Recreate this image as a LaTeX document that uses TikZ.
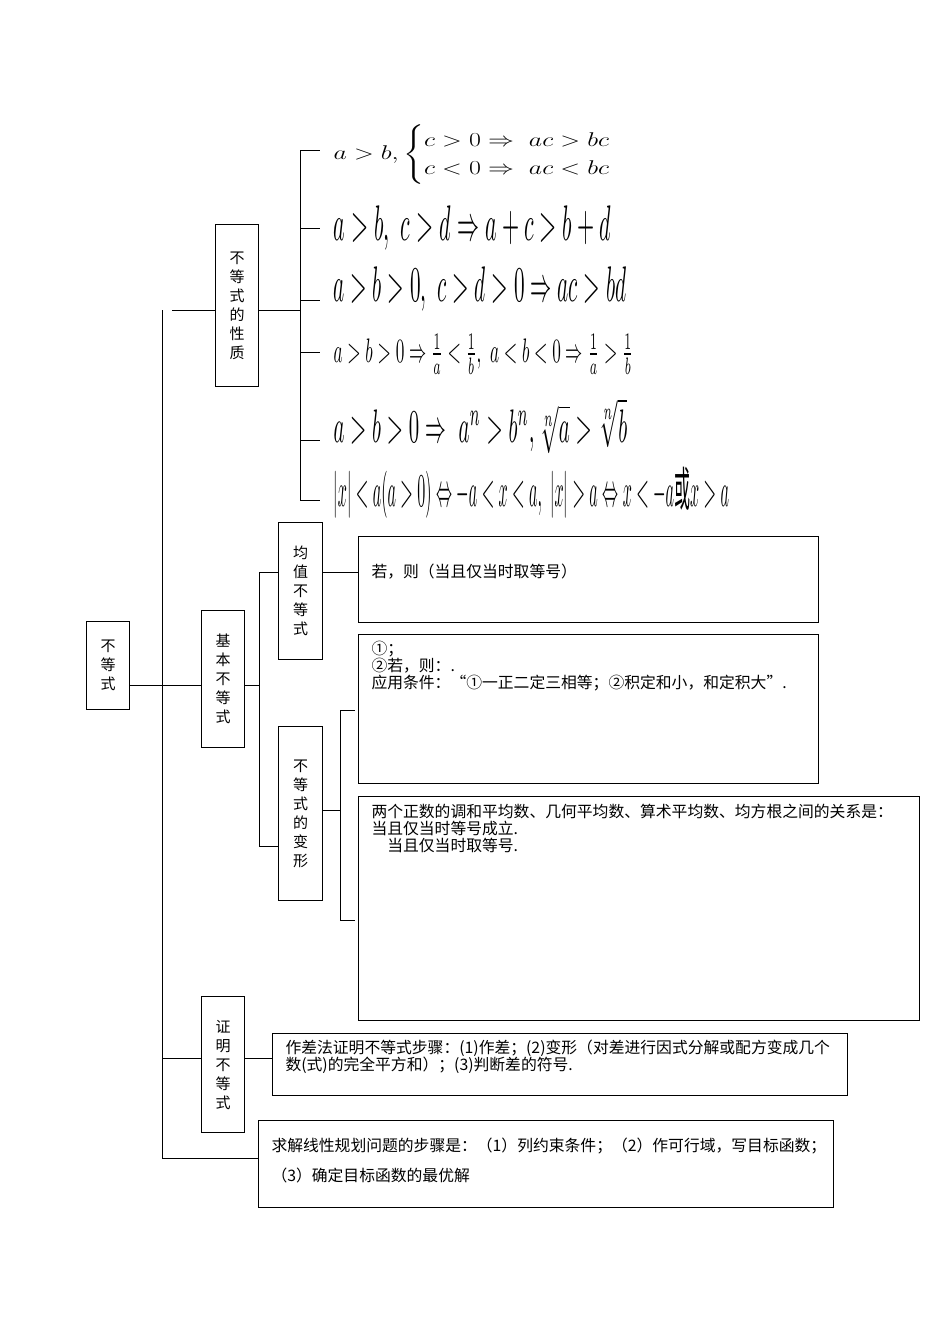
\documentclass[tikz,border=0pt]{standalone}
\usepackage{fontspec}
\usepackage{amsmath,graphicx}
\newfontfamily\cjk{Noto Sans CJK SC}
\begin{document}
\begin{tikzpicture}[x=1pt,y=-1pt,line width=1pt,
  box/.style={draw,rectangle,inner sep=0pt,anchor=north west},
  vt/.style={font=\cjk\fontsize{15}{19}\selectfont,align=center,inner sep=0pt},
  bt/.style={font=\cjk\fontsize{15.8}{17}\selectfont,align=left,inner sep=0pt,anchor=north west},
  fm/.style={anchor=west,inner sep=0pt}]
\useasboundingbox (0,0) rectangle (950,1344);
% boxes
\node[box,minimum width=43,minimum height=88] (root) at (86,621) {};
\node[vt] at (root.center) {不\\等\\式};
\node[box,minimum width=43,minimum height=162] (prop) at (215,224) {};
\node[vt] at (prop.center) {不\\等\\式\\的\\性\\质};
\node[box,minimum width=43,minimum height=137] (basic) at (201,610) {};
\node[vt] at (basic.center) {基\\本\\不\\等\\式};
\node[box,minimum width=44,minimum height=137] (mean) at (278,522) {};
\node[vt] at (mean.center) {均\\值\\不\\等\\式};
\node[box,minimum width=44,minimum height=174] (trans) at (278,726) {};
\node[vt] at (trans.center) {不\\等\\式\\的\\变\\形};
\node[box,minimum width=43,minimum height=136] (proof) at (201,996) {};
\node[vt] at (proof.center) {证\\明\\不\\等\\式};
\node[box,minimum width=460,minimum height=86] (b1) at (358,536) {};
\node[bt] at (371,563) {若，则（当且仅当时取等号）};
\node[box,minimum width=460,minimum height=149] (b2) at (358,634) {};
\node[bt] at (371,641) {①；\\②若，则：.\\应用条件：“①一正二定三相等；②积定和小，和定积大”.};
\node[box,minimum width=561,minimum height=224] (b3) at (358,796) {};
\node[bt] at (371,804) {两个正数的调和平均数、几何平均数、算术平均数、均方根之间的关系是：\\当且仅当时等号成立.\\\quad 当且仅当时取等号.};
\node[box,minimum width=575,minimum height=62] (b4) at (272,1033) {};
\node[bt] at (285,1039) {作差法证明不等式步骤：(1)作差；(2)变形（对差进行因式分解或配方变成几个\\数(式)的完全平方和）；(3)判断差的符号.};
\node[box,minimum width=575,minimum height=87] (b5) at (258,1120) {};
\node[bt,font=\cjk\fontsize{15.8}{30}\selectfont] at (271,1137) {求解线性规划问题的步骤是：（1）列约束条件；（2）作可行域，写目标函数；\\（3）确定目标函数的最优解};
% formulas
\node[fm] (f1) at (333,155) {\scalebox{1.5}[1.15]{\fontsize{17}{20}\selectfont$a>b,\begin{cases} c>0\Rightarrow\ ac>bc\\ c<0\Rightarrow\ ac<bc\end{cases}$}};
\node[fm] (f2) at (333,228) {\scalebox{2.2}[5]{$a>b,\ c>d\Rightarrow a+c>b+d$}};
\node[fm] (f3) at (333,289) {\scalebox{2.12}[5]{$a>b>0,\ c>d>0\Rightarrow ac>bd$}};
\node[fm] (f4) at (333,354) {\scalebox{1.72}[3.4]{$a>b>0\Rightarrow \frac1a<\frac1b,\ a<b<0\Rightarrow \frac1a>\frac1b$}};
\node[fm] (f5) at (333,426) {\scalebox{2.08}[4.7]{$a>b>0\Rightarrow\ a^n>b^n,\sqrt[n]{a}>\sqrt[n]{b}$}};
\node[fm] (f6) at (333,493) {\scalebox{1.6}[4.7]{$|x|<a(a>0)\Leftrightarrow -a<x<a,\ |x|>a\Leftrightarrow x<-a\text{\cjk 或}x>a$}};
% connectors
\coordinate (tt) at (162,310);
\coordinate (tb) at (162,1158);
\draw (tt) -- (tb);
\draw (172,310) -- (prop.west |- 0,310);
\draw (root.east |- 0,685) -- (basic.west |- 0,685);
\draw (162,1058) -- (proof.west |- 0,1058);
\draw (proof.east |- 0,1058) -- (b4.west |- 0,1058);
\draw (tb) -- (b5.west |- tb);
\draw (prop.east |- 0,310) -- (300,310);
\draw (300,150) -- (300,500);
\foreach \f/\y in {f1/150,f2/228,f3/300,f4/352,f5/440,f6/500} \draw (300,\y) -- (320,\y);
\draw (basic.east |- 0,685) -- (259,685);
\draw (259,572) -- (259,846);
\draw (259,572) -- (mean.west |- 0,572);
\draw (259,846) -- (trans.west |- 0,846);
\draw (mean.east |- 0,572) -- (b1.west |- 0,572);
\draw (trans.east |- 0,810) -- (340,810);
\draw (340,710) -- (340,920);
\draw (340,710) -- (355,710);
\draw (340,920) -- (355,920);
\end{tikzpicture}
\end{document}
